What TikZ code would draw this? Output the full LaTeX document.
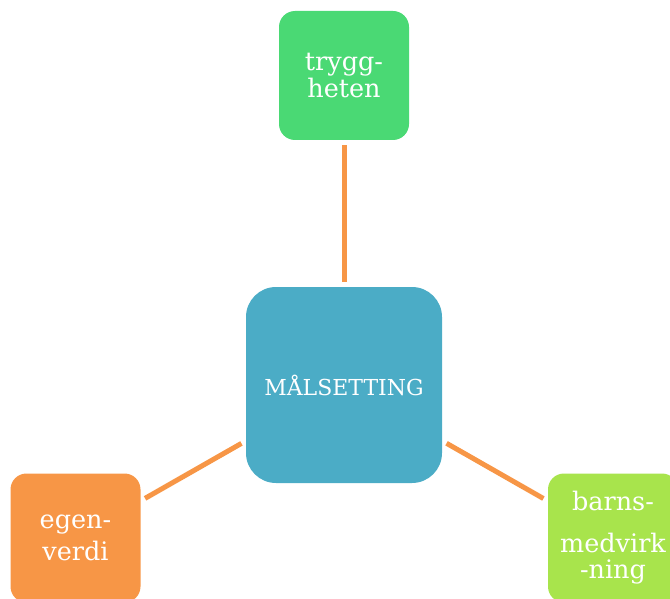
\documentclass[tikz,border=0pt]{standalone}
\usepackage{fontspec}
\setmainfont{DejaVu Serif}
\usetikzlibrary{positioning}

\definecolor{linkorange}{RGB}{247,150,70}
\definecolor{goalblue}{RGB}{75,172,198}
\definecolor{safegreen}{RGB}{74,217,116}
\definecolor{selforange}{RGB}{247,150,70}
\definecolor{kidgreen}{RGB}{168,228,76}

\begin{document}
\begin{tikzpicture}[x=1pt,y=-1pt,
    box/.style={rectangle,rounded corners=16pt,minimum width=130pt,minimum height=129pt,
                text=white,align=center,inner sep=0pt,font=\fontsize{25.5}{25}\selectfont},
    link/.style={draw=linkorange,line width=5pt,shorten <=5pt,shorten >=5pt}]
\useasboundingbox (0,0) rectangle (670,599);
% Draw goal and its three parts
   \node [box,fill=goalblue,minimum width=196pt,minimum height=196pt,rounded corners=30pt,
          font=\fontsize{22}{24}\selectfont] (main) at (344,385) {MÅLSETTING};
   \node [box,fill=safegreen]  (trygg) at (344,75.5) {trygg-\\heten};
   \node [box,fill=selforange] (egen)  at (75.5,538) {egen-\\[6pt]verdi};
   \node [box,fill=kidgreen]   (barns) at (613,538)  {barns-\\[17pt]medvirk\\[1pt]-ning};
   \draw [link] (trygg) -- (main);
   \draw [link] (main) -- (egen);
   \draw [link] (main) -- (barns);
\end{tikzpicture}
\end{document}
